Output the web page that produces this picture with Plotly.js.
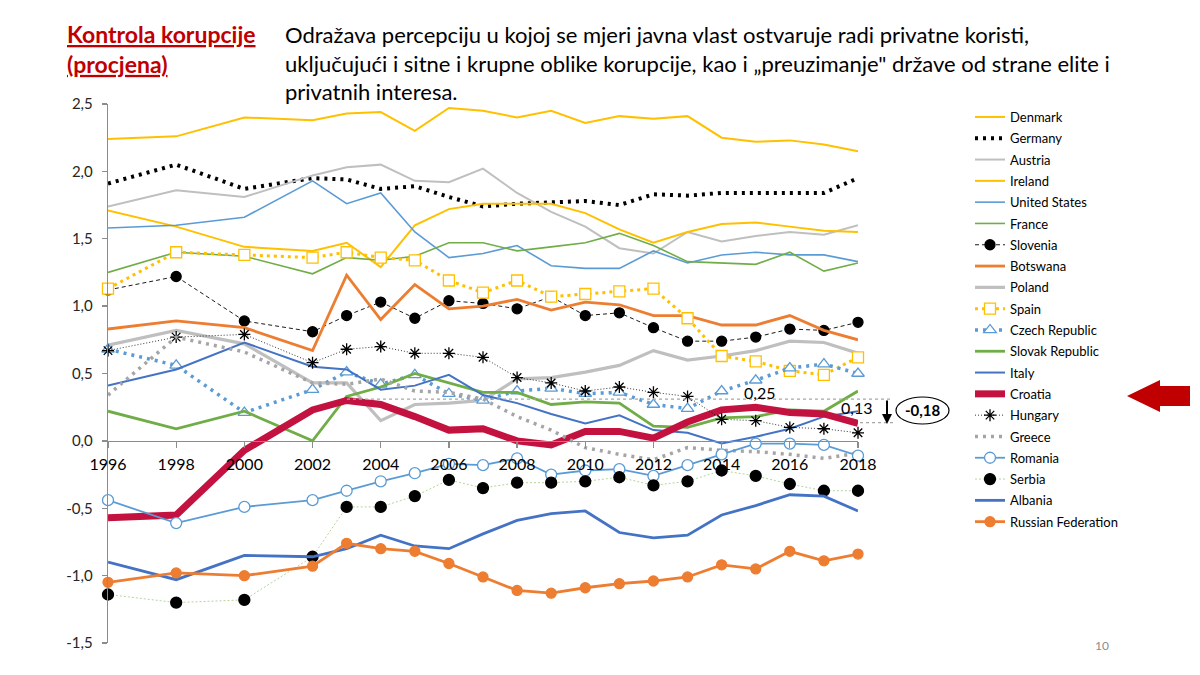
<!DOCTYPE html>
<html>
<head>
<meta charset="utf-8">
<script src="https://cdn.plot.ly/plotly-3.0.1.min.js"></script>
<style>
  html, body { margin: 0; padding: 0; background: #fff; }
  #plotDiv { width: 1200px; height: 675px; }
</style>
</head>
<body>
<div id="plotDiv"></div>
<script>
var years = [1996, 1998, 2000, 2002, 2003, 2004, 2005, 2006, 2007, 2008, 2009, 2010, 2011, 2012, 2013, 2014, 2015, 2016, 2017, 2018];

var denmark = [2.24, 2.26, 2.40, 2.38, 2.43, 2.44, 2.30, 2.47, 2.45, 2.40, 2.45, 2.36, 2.41, 2.39, 2.41, 2.25, 2.22, 2.23, 2.20, 2.15];
var germany = [1.91, 2.05, 1.87, 1.95, 1.94, 1.87, 1.89, 1.81, 1.74, 1.76, 1.77, 1.78, 1.75, 1.83, 1.82, 1.84, 1.84, 1.84, 1.84, 1.95];
var austria = [1.74, 1.86, 1.81, 1.97, 2.03, 2.05, 1.93, 1.92, 2.02, 1.84, 1.70, 1.59, 1.43, 1.39, 1.55, 1.48, 1.52, 1.55, 1.53, 1.60];
var ireland = [1.71, 1.59, 1.44, 1.41, 1.47, 1.29, 1.60, 1.72, 1.76, 1.76, 1.76, 1.69, 1.57, 1.47, 1.55, 1.61, 1.62, 1.59, 1.56, 1.55];
var unitedStates = [1.58, 1.60, 1.66, 1.93, 1.76, 1.84, 1.55, 1.36, 1.39, 1.45, 1.30, 1.28, 1.28, 1.41, 1.32, 1.38, 1.40, 1.38, 1.38, 1.33];
var france = [1.25, 1.40, 1.37, 1.24, 1.36, 1.34, 1.37, 1.47, 1.47, 1.41, 1.44, 1.47, 1.54, 1.45, 1.33, 1.32, 1.31, 1.40, 1.26, 1.32];
var slovenia = [1.12, 1.22, 0.89, 0.81, 0.93, 1.03, 0.91, 1.04, 1.02, 0.98, 1.07, 0.93, 0.95, 0.84, 0.74, 0.74, 0.77, 0.83, 0.82, 0.88];
var botswana = [0.83, 0.89, 0.84, 0.67, 1.23, 0.90, 1.16, 0.98, 1.00, 1.05, 0.97, 1.03, 1.01, 0.93, 0.93, 0.86, 0.86, 0.93, 0.82, 0.75];
var poland = [0.71, 0.82, 0.72, 0.43, 0.43, 0.15, 0.27, 0.28, 0.30, 0.46, 0.47, 0.51, 0.56, 0.67, 0.60, 0.63, 0.67, 0.74, 0.73, 0.65];
var spain = [1.13, 1.40, 1.38, 1.36, 1.40, 1.36, 1.34, 1.19, 1.10, 1.19, 1.07, 1.09, 1.11, 1.13, 0.91, 0.63, 0.59, 0.52, 0.49, 0.62];
var czech = [0.68, 0.56, 0.21, 0.38, 0.51, 0.42, 0.49, 0.35, 0.30, 0.37, 0.39, 0.35, 0.36, 0.27, 0.24, 0.37, 0.45, 0.54, 0.57, 0.50];
var slovakia = [0.22, 0.09, 0.22, 0.00, 0.33, 0.40, 0.50, 0.43, 0.36, 0.36, 0.27, 0.29, 0.28, 0.11, 0.10, 0.17, 0.18, 0.23, 0.22, 0.37];
var italy = [0.41, 0.53, 0.73, 0.55, 0.53, 0.38, 0.41, 0.49, 0.34, 0.28, 0.20, 0.13, 0.19, 0.08, 0.06, -0.02, 0.03, 0.09, 0.18, 0.22];
var croatia = [-0.57, -0.55, -0.07, 0.23, 0.30, 0.27, 0.18, 0.08, 0.09, 0.00, -0.03, 0.07, 0.07, 0.02, 0.14, 0.23, 0.25, 0.21, 0.20, 0.13];
var hungary = [0.67, 0.77, 0.79, 0.58, 0.68, 0.70, 0.65, 0.65, 0.62, 0.47, 0.43, 0.37, 0.40, 0.36, 0.33, 0.16, 0.15, 0.10, 0.09, 0.06];
var greece = [0.34, 0.77, 0.66, 0.43, 0.42, 0.46, 0.37, 0.36, 0.31, 0.18, 0.08, -0.05, -0.10, -0.14, -0.05, -0.07, -0.08, -0.10, -0.13, -0.09];
var romania = [-0.44, -0.61, -0.49, -0.44, -0.37, -0.30, -0.24, -0.17, -0.18, -0.13, -0.25, -0.22, -0.21, -0.26, -0.18, -0.10, -0.02, -0.02, -0.03, -0.11];
var serbia = [-1.14, -1.20, -1.18, -0.86, -0.49, -0.49, -0.41, -0.29, -0.35, -0.31, -0.31, -0.30, -0.27, -0.33, -0.30, -0.22, -0.26, -0.32, -0.37, -0.37];
var albania = [-0.90, -1.03, -0.85, -0.86, -0.80, -0.70, -0.78, -0.80, -0.69, -0.59, -0.54, -0.52, -0.68, -0.72, -0.70, -0.55, -0.48, -0.40, -0.41, -0.52];
var russia = [-1.05, -0.98, -1.00, -0.93, -0.76, -0.80, -0.82, -0.91, -1.01, -1.11, -1.13, -1.09, -1.06, -1.04, -1.01, -0.92, -0.95, -0.82, -0.89, -0.84];

var yTickVals = [-1.5, -1.0, -0.5, 0, 0.5, 1.0, 1.5, 2.0, 2.5];
var yTickText = ['-1,5', '-1,0', '-0,5', '0,0', '0,5', '1,0', '1,5', '2,0', '2,5'];

var FONT = 'Lato, "Open Sans", sans-serif';

// pixel -> paper helpers, plot area is 108..858 x 104..643
function px(X) { return (X - 108) / 750; }
function py(Y) { return (643 - Y) / 539; }

function line(name, y, color, width, dash) {
  return {
    x: years, y: y, name: name, legendgroup: name,
    type: 'scatter', mode: 'lines',
    line: {color: color, width: width, dash: dash || 'solid'}
  };
}

function lineMarkers(name, y, color, width, dash, symbol, mcolor, mline, msize) {
  var t = line(name, y, color, width, dash);
  t.mode = 'lines+markers';
  t.cliponaxis = false;
  t.marker = {symbol: symbol, size: msize, color: mcolor, line: {color: mline, width: 1.3}};
  return t;
}

var data = [
  line('Denmark', denmark, '#FFC000', 2),
  line('Germany', germany, '#000000', 4, '3px,5px'),
  line('Austria', austria, '#BFBFBF', 2),
  line('Ireland', ireland, '#FFC000', 2),
  line('United States', unitedStates, '#5B9BD5', 1.6),
  line('France', france, '#70AD47', 1.6),
  lineMarkers('Slovenia', slovenia, '#000000', 0.9, '4px,3px', 'circle', '#000000', '#000000', 10),
  line('Botswana', botswana, '#ED7D31', 2.8),
  line('Poland', poland, '#BFBFBF', 3.2),
  lineMarkers('Spain', spain, '#FFC000', 3, '3px,4px', 'square', '#FFFFFF', '#FFC000', 11),
  lineMarkers('Czech Republic', czech, '#5B9BD5', 3.5, '3px,5px', 'triangle-up', '#FFFFFF', '#5B9BD5', 11),
  line('Slovak Republic', slovakia, '#70AD47', 2.8),
  line('Italy', italy, '#4472C4', 2),
  line('Croatia', croatia, '#C3123F', 7),
  lineMarkers('Hungary', hungary, '#000000', 0.8, '1px,2px', 'asterisk-open', '#000000', '#000000', 10),
  line('Greece', greece, '#A5A5A5', 3.5, '3px,5px'),
  lineMarkers('Romania', romania, '#5B9BD5', 1.8, 'solid', 'circle', '#FFFFFF', '#5B9BD5', 11),
  lineMarkers('Serbia', serbia, '#A9D18E', 0.9, '2px,2px', 'circle', '#000000', '#000000', 11),
  line('Albania', albania, '#4472C4', 2.8),
  lineMarkers('Russian Federation', russia, '#ED7D31', 2.8, 'solid', 'circle', '#ED7D31', '#ED7D31', 10)
];

var layout = {
  width: 1200,
  height: 675,
  paper_bgcolor: '#FFFFFF',
  plot_bgcolor: '#FFFFFF',
  font: {family: FONT, color: '#000000'},
  margin: {l: 108, r: 342, t: 104, b: 32},
  showlegend: true,
  legend: {
    x: px(970), y: py(102), xanchor: 'left', yanchor: 'top',
    font: {family: FONT, size: 13, color: '#000000'},
    tracegroupgap: 1.4,
    maxheight: 640,
    bgcolor: 'rgba(0,0,0,0)'
  },
  xaxis: {
    range: [1996, 2018],
    tick0: 1996, dtick: 2,
    anchor: 'free', position: 0.375,
    showgrid: false, zeroline: false,
    showline: true, linecolor: '#8C8C8C', linewidth: 1.3,
    ticks: 'outside', ticklen: 6, tickcolor: '#8C8C8C', tickwidth: 1.3,
    ticklabelstandoff: 3,
    tickfont: {family: FONT, size: 16, color: '#000000'}
  },
  yaxis: {
    range: [-1.5, 2.5],
    tickvals: yTickVals, ticktext: yTickText,
    showgrid: false, zeroline: false,
    showline: true, linecolor: '#8C8C8C', linewidth: 1.3,
    ticks: 'outside', ticklen: 5, tickcolor: '#8C8C8C', tickwidth: 1.3,
    ticklabelstandoff: 6,
    tickfont: {family: FONT, size: 15, color: '#262626'}
  },
  shapes: [
    // reference lines at the Croatia 2015 and 2018 levels
    {type: 'line', xref: 'paper', yref: 'y', x0: px(347), x1: px(893), y0: 0.31, y1: 0.31,
     line: {color: '#A6A6A6', width: 1.3, dash: 'dot'}},
    {type: 'line', xref: 'paper', yref: 'y', x0: px(860), x1: px(893), y0: 0.135, y1: 0.135,
     line: {color: '#A6A6A6', width: 1.3, dash: 'dot'}},
    // ellipse round the change
    {type: 'circle', xref: 'paper', yref: 'paper', x0: px(896), x1: px(949), y0: py(424), y1: py(397),
     line: {color: '#000000', width: 1.2}},
    // red block arrow pointing at Croatia in the legend
    {type: 'path', xref: 'paper', yref: 'paper',
     path: 'M ' + px(1127) + ',' + py(396) +
           ' L ' + px(1160) + ',' + py(380) +
           ' L ' + px(1160) + ',' + py(386) +
           ' L ' + px(1190) + ',' + py(386) +
           ' L ' + px(1190) + ',' + py(406) +
           ' L ' + px(1160) + ',' + py(406) +
           ' L ' + px(1160) + ',' + py(412) + ' Z',
     fillcolor: '#C00000', line: {width: 0}}
  ],
  annotations: [
    {xref: 'paper', yref: 'paper', x: px(65), y: py(18), xanchor: 'left', yanchor: 'top', align: 'left',
     showarrow: false,
     text: '<b><u>Kontrola korupcije</u></b><br><b><u>(procjena)</u></b>',
     font: {family: FONT, size: 23, color: '#C00000'}},
    {xref: 'paper', yref: 'paper', x: px(283), y: py(19), xanchor: 'left', yanchor: 'top', align: 'left',
     showarrow: false,
     text: 'Odražava percepciju u kojoj se mjeri javna vlast ostvaruje radi privatne koristi,<br>' +
           'uključujući i sitne i krupne oblike korupcije, kao i „preuzimanje" države od strane elite i<br>' +
           'privatnih interesa.',
     font: {family: FONT, size: 22, color: '#000000'}},
    {xref: 'x', yref: 'y', x: 2015.1, y: 0.36, xanchor: 'center', showarrow: false, text: '0,25',
     font: {family: FONT, size: 16, color: '#000000'}},
    {xref: 'x', yref: 'y', x: 2017.95, y: 0.245, xanchor: 'center', showarrow: false, text: '0,13',
     font: {family: FONT, size: 16, color: '#000000'}},
    {xref: 'paper', yref: 'paper', x: px(887), y: py(424), ax: 0, ay: -25, text: '',
     showarrow: true, arrowhead: 2, arrowsize: 1, arrowwidth: 2, arrowcolor: '#000000'},
    {xref: 'paper', yref: 'paper', x: px(923), y: py(410), xanchor: 'center', yanchor: 'middle',
     showarrow: false, text: '<b>-0,18</b>',
     font: {family: FONT, size: 15, color: '#000000'}},
    {xref: 'paper', yref: 'paper', x: px(1102), y: py(645), xanchor: 'center', yanchor: 'middle',
     showarrow: false, text: '10',
     font: {family: FONT, size: 12, color: '#8C8C8C'}}
  ]
};

Plotly.newPlot('plotDiv', data, layout, {displayModeBar: false, staticPlot: true});
</script>
</body>
</html>
